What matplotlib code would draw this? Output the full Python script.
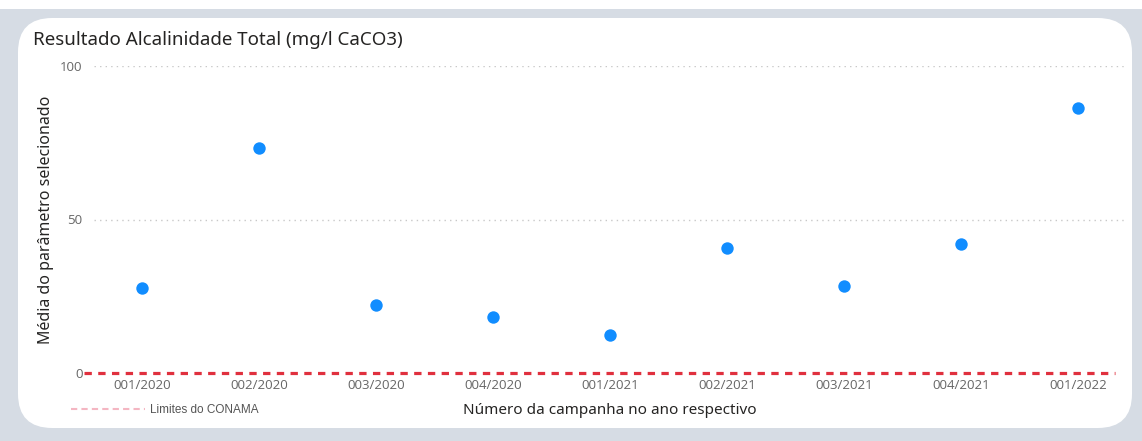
import matplotlib
matplotlib.use("Agg")
import matplotlib.pyplot as plt
from matplotlib.patches import FancyBboxPatch, Rectangle
from matplotlib.lines import Line2D

# data
campanhas = ["001/2020", "002/2020", "003/2020", "004/2020", "001/2021",
             "002/2021", "003/2021", "004/2021", "001/2022"]
alcalinidade = [27.7, 73.3, 22.1, 18.2, 12.4, 40.7, 28.3, 42.0, 86.3]
limite_conama = 0
y_ticks = [0, 50, 100]

W, H = 1142, 441
fig = plt.figure(figsize=(W / 100, H / 100), dpi=100)
fig.patch.set_facecolor("#d6dce4")

# white strip at the very top and the white card
fig.patches.append(Rectangle((0, 1 - 9 / H), 1, 9 / H, transform=fig.transFigure,
                             facecolor="white", edgecolor="none", zorder=-2))
card = FancyBboxPatch((18 / W, 13 / H), (1132 - 18) / W, (428 - 18) / H,
                      boxstyle="round,pad=0,rounding_size=0.03",
                      transform=fig.transFigure, facecolor="white",
                      edgecolor="none", mutation_aspect=W / H, zorder=-2)
fig.patches.append(card)

ax = fig.add_axes([84 / W, 1 - 373 / H, (1125 - 84) / W, (373 - 66) / H])
ax.set_facecolor("none")

x = list(range(len(campanhas)))
ax.scatter(x, alcalinidade, s=80, color="#118dff", zorder=3, linewidths=0)
ax.axhline(limite_conama, xmax=0.99, color="#e0303e", lw=2.3,
           ls=(0, (2.3, 2.0)), zorder=2, clip_on=False)

ax.set_xlim(-0.5, 8.4)
ax.set_ylim(0, 100)
ax.set_xticks(x)
ax.set_xticklabels(campanhas)
ax.set_yticks(y_ticks)
for y in y_ticks[1:]:
    ax.axhline(y, xmin=0.01, color="#c8c8c8", lw=1, ls=(0, (1, 3)), zorder=1)

for s in ax.spines.values():
    s.set_visible(False)
ax.tick_params(length=0, colors="#666666", labelsize=9.5)
ax.tick_params(axis="x", pad=4)
ax.tick_params(axis="y", pad=1)
for lab in ax.get_xticklabels() + ax.get_yticklabels():
    lab.set_fontfamily("Open Sans")

ax.set_ylabel("Média do parâmetro selecionado", fontsize=11.5,
              color="#252423", family="Noto Sans")
ax.yaxis.set_label_coords(-0.029, 0.5)
fig.text(610 / W, 1 - 410 / H, "Número da campanha no ano respectivo",
         ha="center", va="center", fontsize=11, color="#252423",
         family="Noto Sans")
fig.text(33 / W, 1 - 40 / H, "Resultado Alcalinidade Total (mg/l CaCO3)",
         ha="left", va="center", fontsize=13.5, color="#252423",
         family="Noto Sans")

handle = Line2D([], [], color="#f4b6c2", lw=1.5, ls=(0, (3, 2)))
fig.legend([handle], ["Limites do CONAMA"], loc="center left",
           bbox_to_anchor=(66 / W, 1 - 410 / H), frameon=False,
           handlelength=6.3, handletextpad=0.4, borderaxespad=0,
           prop={"family": "Liberation Sans", "size": 8.5},
           labelcolor="#555555")

fig.savefig("out.png", dpi=100, facecolor=fig.get_facecolor())
